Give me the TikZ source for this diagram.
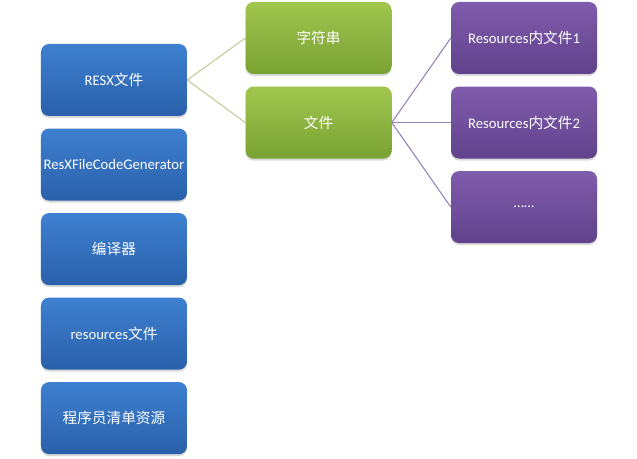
\documentclass[tikz,border=0pt]{standalone}
\usepackage{fontspec}
\setmainfont{Carlito}
\newfontfamily\cjk{Noto Sans CJK SC}
\usepackage{tikz}
\usetikzlibrary{positioning,shadows}
\definecolor{bluetop}{RGB}{62,128,208}
\definecolor{bluebot}{RGB}{42,96,170}
\definecolor{greentop}{RGB}{160,198,78}
\definecolor{greenbot}{RGB}{122,162,52}
\definecolor{purptop}{RGB}{128,92,172}
\definecolor{purpbot}{RGB}{96,66,140}
\definecolor{greenline}{RGB}{200,202,150}
\definecolor{purpline}{RGB}{150,128,182}
\tikzset{
  box/.style={rounded corners=6pt, minimum height=54pt, minimum width=109.5pt,
              align=center, font=\fontsize{11pt}{13pt}\selectfont, text=white,
              inner sep=1pt,
              drop shadow={shadow xshift=0pt, shadow yshift=-1.5pt, opacity=0.3}},
  bbox/.style={box, top color=bluetop, bottom color=bluebot},
  gbox/.style={box, top color=greentop, bottom color=greenbot},
  pbox/.style={box, top color=purptop, bottom color=purpbot},
  gline/.style={draw=greenline, line width=0.8pt},
  pline/.style={draw=purpline, line width=0.8pt}
}
\begin{document}
\begin{tikzpicture}[node distance=9pt and 43.5pt]
  \useasboundingbox (-85.5pt,60pt) rectangle (392.25pt,-284.25pt);
  % left column
  \node[bbox] (resx) {RESX{\cjk 文件}};
  \node[bbox, below=of resx] (gen) {ResXFileCodeGenerator};
  \node[bbox, below=of gen] (comp) {{\cjk 编译器}};
  \node[bbox, below=of comp] (res) {resources{\cjk 文件}};
  \node[bbox, below=of res] (mani) {{\cjk 程序员清单资源}};
  % middle column
  \node[gbox, right=of resx, yshift=31.5pt] (str) {{\cjk 字符串}};
  \node[gbox, below=of str] (file) {{\cjk 文件}};
  % right column
  \node[pbox, right=44.25pt of str] (rf1) {Resources{\cjk 内文件}1};
  \node[pbox, below=of rf1] (rf2) {Resources{\cjk 内文件}2};
  \node[pbox, below=of rf2] (more) {……};

  \draw[gline] (resx.east) -- (str.west);
  \draw[gline] (resx.east) -- (file.west);
  \draw[pline] (file.east) -- (rf1.west);
  \draw[pline] (file.east) -- (rf2.west);
  \draw[pline] (file.east) -- (more.west);
\end{tikzpicture}
\end{document}
